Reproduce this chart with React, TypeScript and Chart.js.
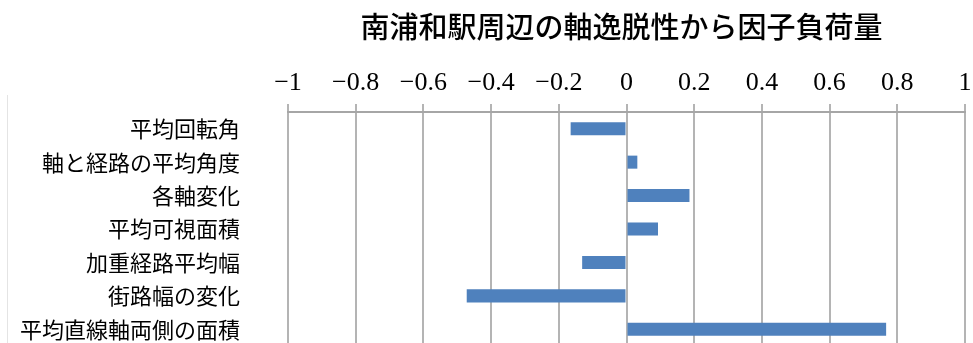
import { useEffect, useRef } from 'react';
import { Chart, registerables } from 'chart.js';

Chart.register(...registerables);

const TITLE = '南浦和駅周辺の軸逸脱性から因子負荷量';
const CATEGORIES = [
  '平均回転角',
  '軸と経路の平均角度',
  '各軸変化',
  '平均可視面積',
  '加重経路平均幅',
  '街路幅の変化',
  '平均直線軸両側の面積',
];
const LOADINGS = [-0.165, 0.032, 0.186, 0.093, -0.131, -0.472, 0.767];
const AXIS_MIN = -1;
const AXIS_MAX = 1;
const AXIS_STEP = 0.2;

const BAR_COLOR = '#4f81bd';
const GRID_COLOR = '#b4b4b4';

// Title centred over the plot area plus the thin frame edge on the left.
const decorations = {
  id: 'decorations',
  beforeDraw(chart: Chart) {
    const { ctx, chartArea } = chart;
    ctx.save();
    ctx.strokeStyle = '#e4e4e4';
    ctx.lineWidth = 1;
    ctx.beginPath();
    ctx.moveTo(7.5, 95);
    ctx.lineTo(7.5, chart.height);
    ctx.stroke();

    ctx.font = '500 29px "Noto Sans CJK JP"';
    ctx.fillStyle = '#000';
    ctx.textAlign = 'center';
    ctx.textBaseline = 'middle';
    ctx.fillText(TITLE, (chartArea.left + chartArea.right) / 2 - 5, 27);
    ctx.restore();
  },
};

function formatTick(v: number): string {
  const n = Number(v.toFixed(1));
  if (n === 0) return '0';
  return n < 0 ? '\u2212' + String(-n) : String(n);
}

export default function App() {
  const canvasRef = useRef<HTMLCanvasElement | null>(null);

  useEffect(() => {
    if (!canvasRef.current) return;
    const chart = new Chart(canvasRef.current, {
      type: 'bar',
      data: {
        labels: CATEGORIES,
        datasets: [
          {
            data: LOADINGS,
            backgroundColor: BAR_COLOR,
            borderColor: BAR_COLOR,
            borderWidth: 0,
            barPercentage: 0.39,
            categoryPercentage: 1,
          },
        ],
      },
      options: {
        indexAxis: 'y',
        animation: false,
        responsive: false,
        layout: { padding: { top: 0, right: 8, bottom: 0, left: 0 } },
        plugins: {
          legend: { display: false },
          title: { display: false },
          tooltip: { enabled: false },
        },
        scales: {
          x: {
            position: 'top',
            min: AXIS_MIN,
            max: AXIS_MAX,
            afterFit(s: any) {
              s.height = 112;
              s.paddingLeft = 0;
              s.paddingRight = 0;
            },
            ticks: {
              stepSize: AXIS_STEP,
              autoSkip: false,
              maxRotation: 0,
              padding: 5,
              color: '#000',
              font: { family: '"Liberation Serif"', size: 26 },
              callback: (v: any) => formatTick(Number(v)),
            },
            grid: {
              color: GRID_COLOR,
              lineWidth: 2,
              tickLength: 8,
              drawTicks: true,
            },
            border: { display: true, color: '#a6a6a6', width: 2 },
          },
          y: {
            afterFit(s: any) {
              s.width = 288;
              s.paddingTop = 0;
              s.paddingBottom = 0;
            },
            ticks: {
              autoSkip: false,
              padding: 48,
              color: '#000',
              font: { family: '"Noto Sans CJK JP"', size: 22 },
            },
            grid: { display: false, drawTicks: false },
            border: { display: false },
          },
        },
      },
      plugins: [decorations],
    });
    return () => chart.destroy();
  }, []);

  return (
    <div
      style={{
        position: 'fixed',
        left: 0,
        top: 0,
        width: 973,
        height: 343,
        overflow: 'hidden',
        background: '#fff',
      }}
    >
      <canvas ref={canvasRef} width={973} height={346} />
    </div>
  );
}
